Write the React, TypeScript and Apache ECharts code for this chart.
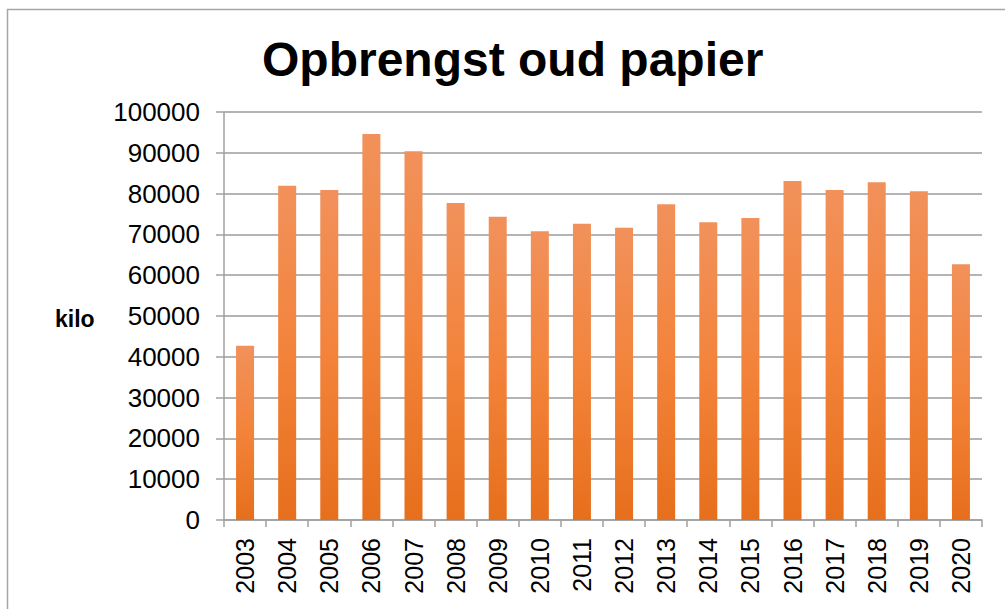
import React, { useEffect, useRef } from "react";
import * as echarts from "echarts";

const years = ["2003","2004","2005","2006","2007","2008","2009","2010","2011","2012","2013","2014","2015","2016","2017","2018","2019","2020"];
const kilos = [42700, 81900, 80900, 94600, 90400, 77700, 74300, 70800, 72600, 71600, 77400, 73000, 74000, 83100, 80900, 82800, 80600, 62700];
const titleText = "Opbrengst oud papier";
const yAxisName = "kilo";

export default function App() {
  const ref = useRef<HTMLDivElement>(null);
  useEffect(() => {
    if (!ref.current) return;
    const chart = echarts.init(ref.current, null, { renderer: "svg" });
    const font = "'Liberation Sans', Arial, sans-serif";
    const gray = "#a0a0a0";
    chart.setOption({
      animation: false,
      backgroundColor: "#ffffff",
      title: {
        text: titleText,
        left: 257,
        top: 30,
        textStyle: { fontFamily: font, fontSize: 48, fontWeight: "bold", color: "#000" },
      },
      graphic: [
        {
          type: "rect",
          shape: { x: 7.5, y: 9.5, width: 1020, height: 640 },
          style: { fill: "none", stroke: "#a6a6a6", lineWidth: 1.5 },
          silent: true,
        },
        {
          type: "text",
          x: 55,
          y: 319,
          style: {
            text: yAxisName,
            font: "bold 23px 'Liberation Sans', Arial, sans-serif",
            fill: "#000",
            textAlign: "left",
            textVerticalAlign: "middle",
          },
        },
      ],
      grid: { left: 224, right: 23, top: 112, bottom: 89, containLabel: false },
      xAxis: {
        type: "category",
        data: years,
        axisLine: { show: true, lineStyle: { color: gray, width: 1.5 } },
        axisTick: { show: true, length: 7, lineStyle: { color: gray, width: 1.5 } },
        axisLabel: {
          rotate: 90,
          margin: 18,
          fontFamily: font,
          fontSize: 25,
          color: "#000",
        },
      },
      yAxis: {
        type: "value",
        min: 0,
        max: 100000,
        interval: 10000,
        axisLine: { show: true, lineStyle: { color: gray, width: 1.5 } },
        axisTick: { show: true, length: 8, lineStyle: { color: gray, width: 1.5 } },
        splitLine: { show: true, lineStyle: { color: "#9b9b9b", width: 1.5 } },
        axisLabel: {
          margin: 24,
          fontFamily: font,
          fontSize: 26,
          color: "#000",
          formatter: (v: number) => String(v),
        },
      },
      series: [
        {
          type: "bar",
          data: kilos,
          barWidth: 18,
          itemStyle: {
            color: new echarts.graphic.LinearGradient(0, 0, 0, 1, [
              { offset: 0, color: "#F1915B" },
              { offset: 0.5, color: "#F3833A" },
              { offset: 1, color: "#E66F1C" },
            ]),
          },
        },
      ],
    });
    return () => chart.dispose();
  }, []);
  return (
    <div
      ref={ref}
      style={{ position: "fixed", left: 0, top: 0, width: 1005, height: 609 }}
    />
  );
}
